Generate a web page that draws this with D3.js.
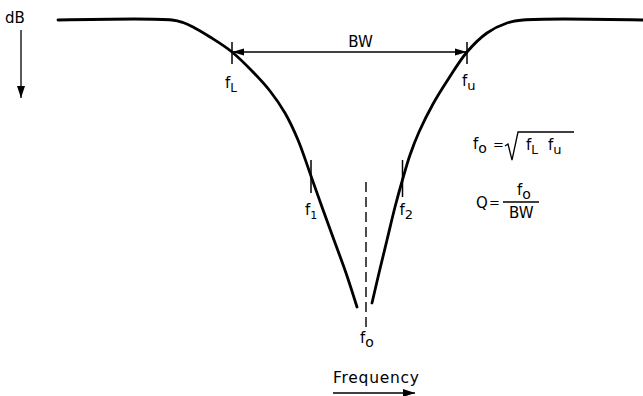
<!DOCTYPE html>
<html>
<head>
<meta charset="utf-8">
<script src="https://cdn.jsdelivr.net/npm/d3@7/dist/d3.min.js"></script>
<style>
  html, body { margin: 0; padding: 0; background: #fff; }
  svg { display: block; }
  text { font-family: "DejaVu Sans", "Liberation Sans", sans-serif; fill: #000; }
</style>
</head>
<body>
<svg id="chart" width="643" height="396"></svg>
<script>
// Band-reject (notch) response: attenuation in dB versus frequency (arbitrary units)
const lowerSkirt = [
  [5.8, 0], [17.2, 0], [18.3, 0.25], [19.3, 0.7], [21.0, 1.7], [23.2, 3.2],
  [25.3, 5.2], [27.0, 7.1], [28.5, 9.3], [29.8, 12.0], [31.1, 15.6],
  [32.2, 18.7], [33.4, 22.0], [34.6, 25.3], [35.7, 28.7]
];
const upperSkirt = [
  [37.2, 28.3], [37.9, 25.3], [38.7, 22.0], [39.5, 18.7], [40.3, 15.8],
  [41.0, 13.5], [41.9, 11.2], [43.3, 8.4], [44.9, 5.8], [46.7, 3.2],
  [48.7, 1.3], [50.7, 0.3], [52.3, 0], [64.3, 0]
];

// Band edges at the -3 dB points and the two inner reference frequencies
const edgeFreqs = { fL: 23.2, fU: 46.7 };
const edgeDb = 3.2;
const innerFreqs = { f1: 31.1, f2: 40.25 };
const innerTickDb = [[14.0, 17.3], [14.0, 17.7]];
const edgeTickDb = [2.2, 4.4];
const centreFreq = 36.6;
const centreDb = [16.2, 30.8];

const svg = d3.select("#chart");
const x = d3.scaleLinear().domain([0, 64.3]).range([0, 643]);
const y = d3.scaleLinear().domain([0, 30]).range([20, 320]);

// arrowhead markers
const defs = svg.append("defs");
function arrowMarker(id, len, half) {
  defs.append("marker")
    .attr("id", id)
    .attr("viewBox", `0 ${-half} ${len} ${2 * half}`)
    .attr("refX", len).attr("refY", 0)
    .attr("markerUnits", "userSpaceOnUse")
    .attr("markerWidth", len).attr("markerHeight", 2 * half)
    .attr("orient", "auto-start-reverse")
    .append("path")
    .attr("d", `M0,${-half}L${len},0L0,${half}Z`)
    .attr("fill", "#000");
}
arrowMarker("head", 12, 3.6);
arrowMarker("headBig", 12, 4);

// response curve
const line = d3.line()
  .x(d => x(d[0])).y(d => y(d[1]))
  .curve(d3.curveCatmullRom.alpha(0.5));

[lowerSkirt, upperSkirt].forEach(s => {
  svg.append("path")
    .attr("d", line(s))
    .attr("fill", "none")
    .attr("stroke", "#000")
    .attr("stroke-width", 2.8)
    .attr("stroke-linecap", "round")
    .attr("stroke-linejoin", "round");
});

// centre frequency (dashed)
svg.append("line")
  .attr("x1", x(centreFreq)).attr("x2", x(centreFreq))
  .attr("y1", y(centreDb[0])).attr("y2", y(centreDb[1]))
  .attr("stroke", "#000").attr("stroke-width", 1.4)
  .attr("stroke-dasharray", "10,5");

// tick marks at band edges and inner frequencies
const ticks = [
  { f: edgeFreqs.fL, d: edgeTickDb },
  { f: edgeFreqs.fU, d: edgeTickDb },
  { f: innerFreqs.f1, d: innerTickDb[0] },
  { f: innerFreqs.f2, d: innerTickDb[1] }
];
svg.selectAll("line.tick").data(ticks).enter().append("line")
  .attr("class", "tick")
  .attr("x1", d => x(d.f)).attr("x2", d => x(d.f))
  .attr("y1", d => y(d.d[0])).attr("y2", d => y(d.d[1]))
  .attr("stroke", "#000").attr("stroke-width", 1.5);

// bandwidth arrow between fL and fU
svg.append("line")
  .attr("x1", x(edgeFreqs.fL)).attr("x2", x(edgeFreqs.fU))
  .attr("y1", y(edgeDb)).attr("y2", y(edgeDb))
  .attr("stroke", "#000").attr("stroke-width", 1.3)
  .attr("marker-start", "url(#head)")
  .attr("marker-end", "url(#head)");

svg.append("text")
  .attr("x", (x(edgeFreqs.fL) + x(edgeFreqs.fU)) / 2 + 11)
  .attr("y", y(edgeDb) - 5)
  .attr("text-anchor", "middle")
  .attr("font-size", 15)
  .text("BW");

// labels with subscripts
function subLabel(g, px, py, main, sub, size, subSize, anchor) {
  const t = g.append("text")
    .attr("x", px).attr("y", py)
    .attr("font-size", size)
    .attr("text-anchor", anchor || "start");
  t.append("tspan").text(main);
  t.append("tspan").attr("font-size", subSize).attr("dy", 4).text(sub);
  return t;
}

subLabel(svg, x(edgeFreqs.fL) - 7, y(edgeDb) + 36, "f", "L", 15, 12);
subLabel(svg, x(edgeFreqs.fU) - 5, y(edgeDb) + 34, "f", "u", 15, 13);
subLabel(svg, x(innerFreqs.f1) - 6, y(innerTickDb[0][1]) + 22, "f", "1", 15, 11);
subLabel(svg, x(innerFreqs.f2) - 3, y(innerTickDb[1][1]) + 18, "f", "2", 15, 13);
subLabel(svg, x(centreFreq) - 6, y(centreDb[1]) + 15, "f", "o", 15, 14);

// dB axis arrow
svg.append("text")
  .attr("x", 5).attr("y", 23)
  .attr("font-size", 15)
  .text("dB");
svg.append("line")
  .attr("x1", 21).attr("x2", 21)
  .attr("y1", 30).attr("y2", 98)
  .attr("stroke", "#000").attr("stroke-width", 1.3)
  .attr("marker-end", "url(#headBig)");

// frequency axis arrow
svg.append("text")
  .attr("x", 333).attr("y", 383)
  .attr("font-size", 15.5)
  .attr("textLength", 86)
  .text("Frequency");
svg.append("line")
  .attr("x1", 333).attr("x2", 415)
  .attr("y1", 393).attr("y2", 393)
  .attr("stroke", "#000").attr("stroke-width", 1.3)
  .attr("marker-end", "url(#headBig)");

// formulas
const fm = svg.append("g");
subLabel(fm, 473, 149, "f", "o", 15, 14);
fm.append("text").attr("x", 493).attr("y", 149).attr("font-size", 13).text("=");
fm.append("path")
  .attr("d", "M505,146 L508,144 L512,160 L518,132 L574,132")
  .attr("fill", "none").attr("stroke", "#000").attr("stroke-width", 1.3);
subLabel(fm, 526, 150, "f", "L", 15, 12);
subLabel(fm, 548, 150, "f", "u", 15, 13);

fm.append("text").attr("x", 476).attr("y", 208).attr("font-size", 15).text("Q");
fm.append("text").attr("x", 489).attr("y", 207).attr("font-size", 13).text("=");
subLabel(fm, 517, 195, "f", "o", 15, 14);
fm.append("line")
  .attr("x1", 503).attr("x2", 539).attr("y1", 202).attr("y2", 202)
  .attr("stroke", "#000").attr("stroke-width", 1.3);
fm.append("text").attr("x", 509).attr("y", 218).attr("font-size", 15).text("BW");
</script>
</body>
</html>
